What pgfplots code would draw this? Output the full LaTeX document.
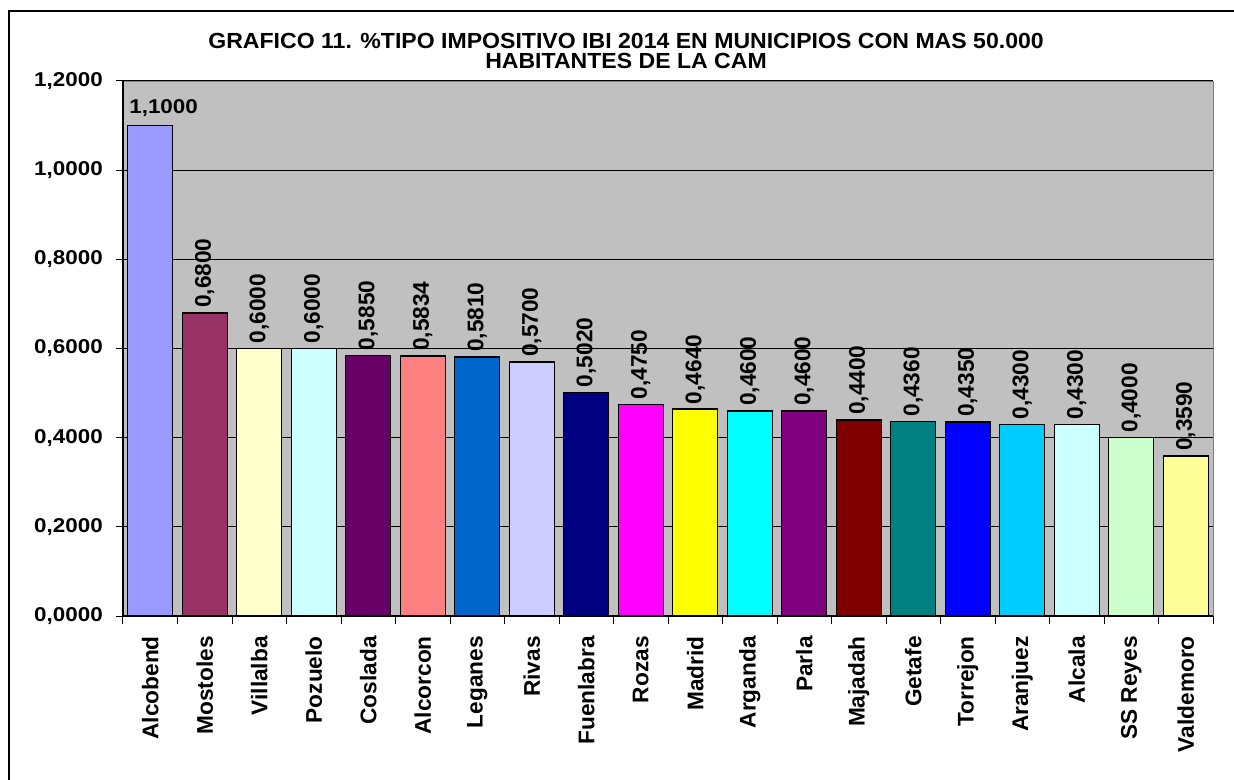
\documentclass[border=0pt]{standalone}
\usepackage{pgfplots}
\pgfplotsset{compat=1.18}
\usepackage{fontspec}
\setmainfont{Liberation Sans}
\newfontfamily\titlefont[FakeStretch=1.055]{Liberation Sans}
\newfontfamily\tickfont[FakeStretch=1.12]{Liberation Sans}
\definecolor{bg}{HTML}{C0C0C0}
\definecolor{c1}{HTML}{9999FF}
\definecolor{c2}{HTML}{993366}
\definecolor{c3}{HTML}{FFFFCC}
\definecolor{c4}{HTML}{CCFFFF}
\definecolor{c5}{HTML}{660066}
\definecolor{c6}{HTML}{FF8080}
\definecolor{c7}{HTML}{0066CC}
\definecolor{c8}{HTML}{CCCCFF}
\definecolor{c9}{HTML}{000080}
\definecolor{c10}{HTML}{FF00FF}
\definecolor{c11}{HTML}{FFFF00}
\definecolor{c12}{HTML}{00FFFF}
\definecolor{c13}{HTML}{800080}
\definecolor{c14}{HTML}{800000}
\definecolor{c15}{HTML}{008080}
\definecolor{c16}{HTML}{0000FF}
\definecolor{c17}{HTML}{00CCFF}
\definecolor{c18}{HTML}{CCFFFF}
\definecolor{c19}{HTML}{CCFFCC}
\definecolor{c20}{HTML}{FFFF99}
\begin{document}
\begin{tikzpicture}
\useasboundingbox (-92.25pt,-122.25pt) rectangle (833.25pt,462pt);
\draw[line width=1.5pt] (-85.5pt,-130pt) -- (-85.5pt,453.75pt) -- (840pt,453.75pt);
\begin{axis}[
  at={(0pt,0pt)}, anchor=south west,
  scale only axis, width=817.5pt, height=401.25pt,
  ybar, bar width=33.75pt, bar shift=0pt,
  xmin=-0.5, xmax=19.5, ymin=0, ymax=1.2,
  axis background/.style={fill=bg, draw=gray},
  axis x line*=bottom, axis y line*=left,
  axis line style={-, black, line width=0.9pt},
  ytick={0,0.2,...,1.2},
  ymajorgrids, grid style={black, line width=0.75pt},
  yticklabel style={font=\tickfont\fontsize{15}{18}\selectfont\bfseries, inner sep=0pt, anchor=east, xshift=-9.75pt,
    /pgf/number format/.cd, fixed, fixed zerofill, precision=4, use comma, assume math mode=true},
  xtick={0,...,19},
  xticklabels={Alcobend,Mostoles,Villalba,Pozuelo,Coslada,Alcorcon,Leganes,Rivas,Fuenlabra,Rozas,Madrid,Arganda,Parla,Majadah,Getafe,Torrejon,Aranjuez,Alcala,SS Reyes,Valdemoro},
  xticklabel style={font=\fontsize{17}{20}\selectfont\bfseries, rotate=90, anchor=east, inner sep=0pt, xshift=-9.75pt},
  major x tick style={draw=none},
  minor xtick={-0.5,0.5,...,19.5},
  minor x tick style={black, line width=0.75pt},
  minor tick length=6pt,
  major tick length=5.25pt,
  tick align=outside,
  y tick style={black, line width=0.75pt},
  nodes near coords={\pgfmathprintnumber[fixed,fixed zerofill,precision=4,use comma,assume math mode=true]{\pgfplotspointmeta}},
  nodes near coords style={font=\fontsize{17}{20}\selectfont\bfseries, black},
  vl/.style={nodes near coords style={rotate=90, anchor=west}},
  every axis plot/.append style={draw=black, line width=1pt},
  title={GRAFICO 11. \%TIPO IMPOSITIVO IBI 2014 EN MUNICIPIOS CON MAS 50.000\\HABITANTES DE LA CAM},
  title style={font=\titlefont\fontsize{16.4}{15.3}\selectfont\bfseries, align=center, inner sep=0pt, at={(0.4615,1)}, anchor=south, yshift=3pt},
  clip=false,
]
\addplot[fill=c1, nodes near coords style={font=\tickfont\fontsize{15}{18}\selectfont\bfseries, anchor=south, xshift=10pt, yshift=3pt}] coordinates {(0,1.1000)};
\addplot[fill=c2, vl] coordinates {(1,0.6800)};
\addplot[fill=c3, vl] coordinates {(2,0.6000)};
\addplot[fill=c4, vl] coordinates {(3,0.6000)};
\addplot[fill=c5, vl] coordinates {(4,0.5850)};
\addplot[fill=c6, vl] coordinates {(5,0.5834)};
\addplot[fill=c7, vl] coordinates {(6,0.5810)};
\addplot[fill=c8, vl] coordinates {(7,0.5700)};
\addplot[fill=c9, vl] coordinates {(8,0.5020)};
\addplot[fill=c10, vl] coordinates {(9,0.4750)};
\addplot[fill=c11, vl] coordinates {(10,0.4640)};
\addplot[fill=c12, vl] coordinates {(11,0.4600)};
\addplot[fill=c13, vl] coordinates {(12,0.4600)};
\addplot[fill=c14, vl] coordinates {(13,0.4400)};
\addplot[fill=c15, vl] coordinates {(14,0.4360)};
\addplot[fill=c16, vl] coordinates {(15,0.4350)};
\addplot[fill=c17, vl] coordinates {(16,0.4300)};
\addplot[fill=c18, vl] coordinates {(17,0.4300)};
\addplot[fill=c19, vl] coordinates {(18,0.4000)};
\addplot[fill=c20, vl] coordinates {(19,0.3590)};
\end{axis}
\end{tikzpicture}
\end{document}
